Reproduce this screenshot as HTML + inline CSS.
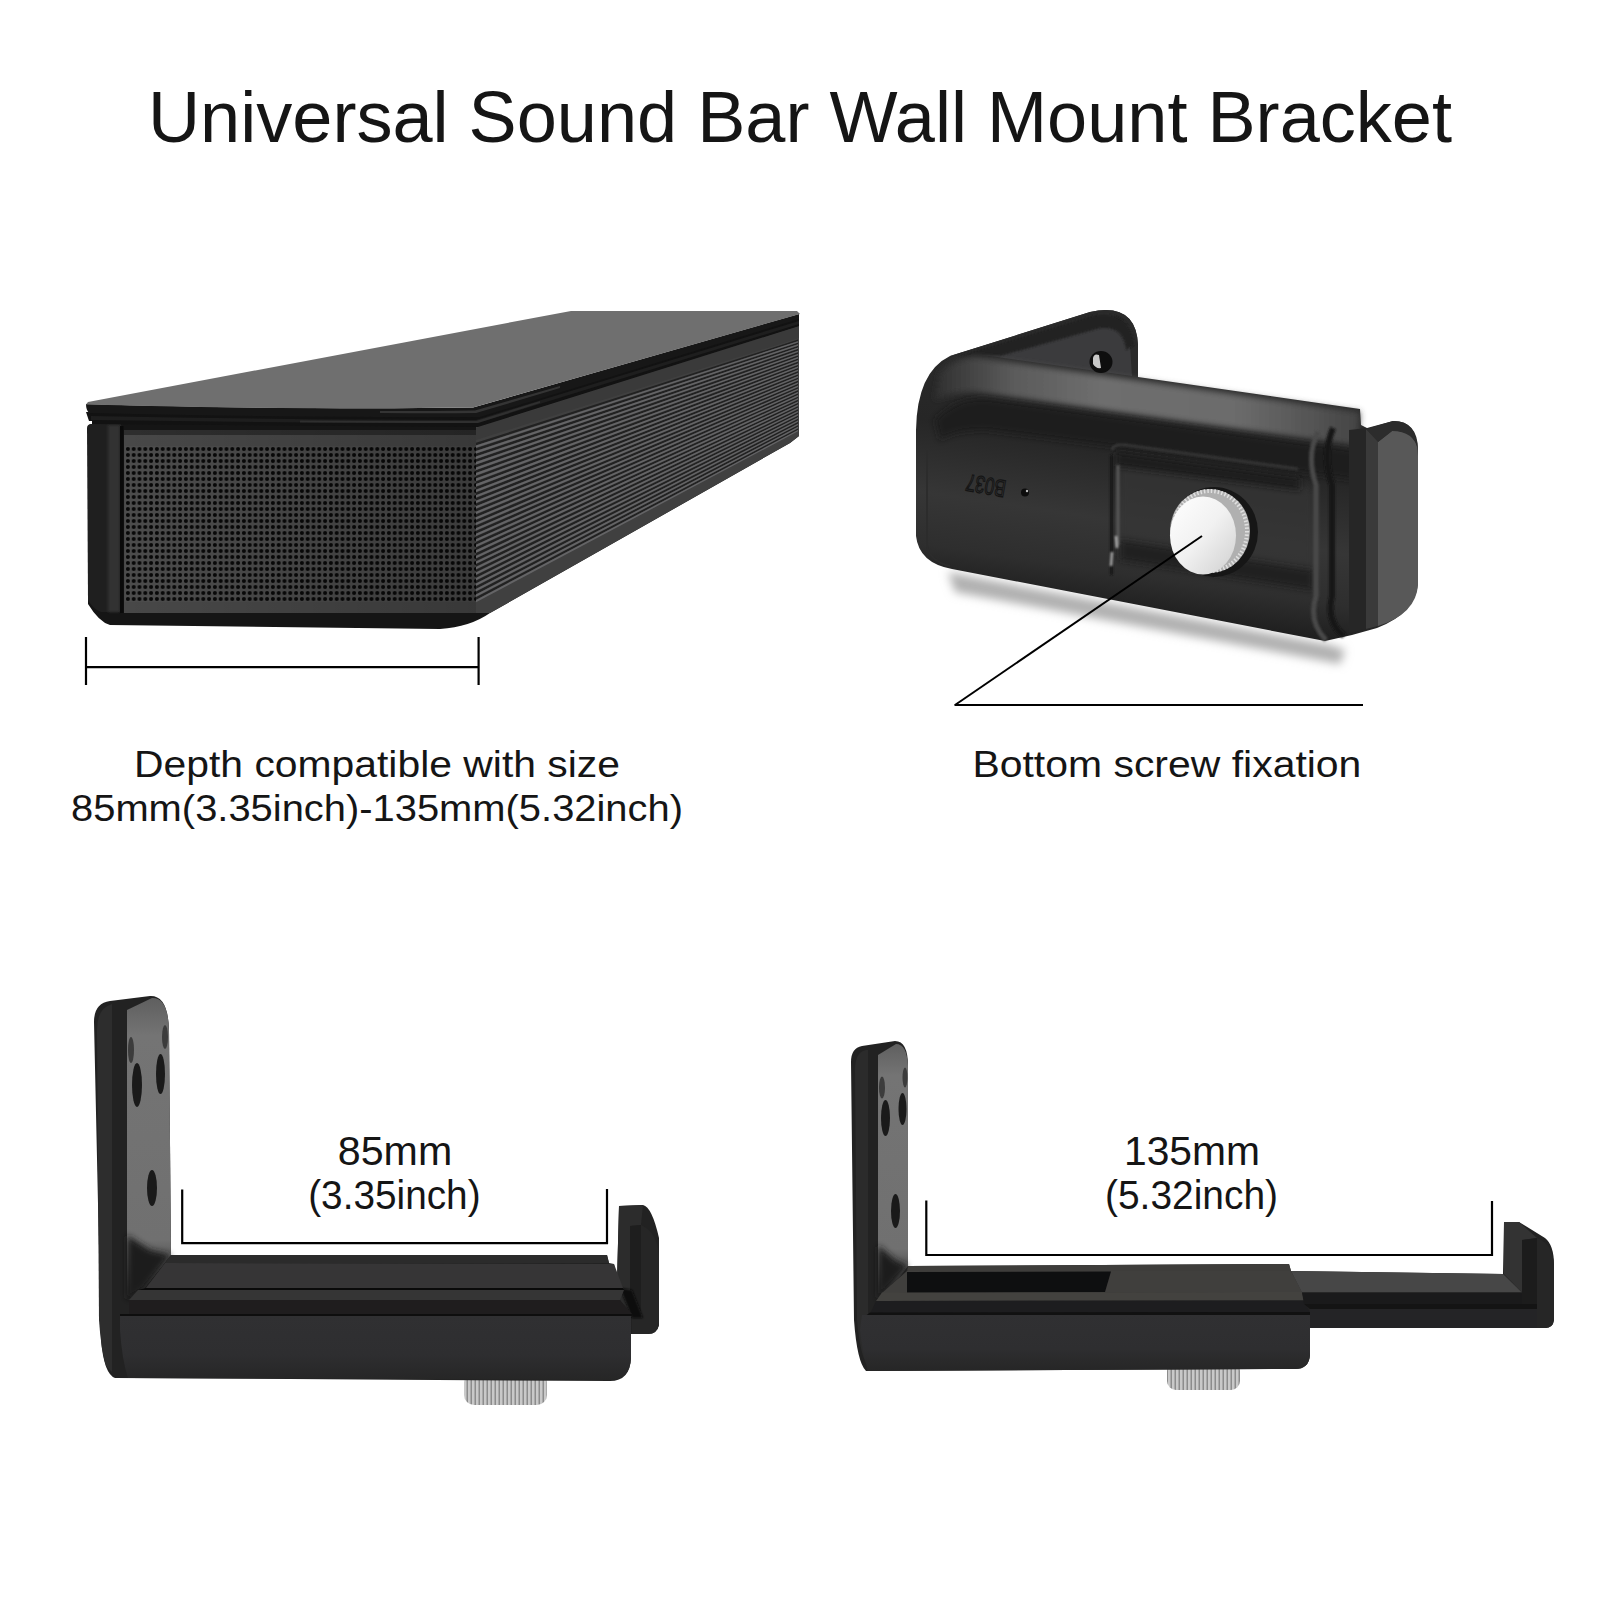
<!DOCTYPE html>
<html><head><meta charset="utf-8">
<style>
html,body{margin:0;padding:0;background:#fff;width:1600px;height:1600px;overflow:hidden}
svg{display:block}
text{font-family:"Liberation Sans",sans-serif;fill:#151515}
</style></head>
<body>
<svg width="1600" height="1600" viewBox="0 0 1600 1600">
<defs>
  <pattern id="dots" x="125" y="446" width="5.8" height="6.0" patternUnits="userSpaceOnUse">
    <rect width="5.8" height="6" fill="#4c4c4c"/>
    <circle cx="2.9" cy="3" r="2.0" fill="#080808"/>
  </pattern>
  <linearGradient id="gGrShade" x1="0" y1="0" x2="1" y2="0">
    <stop offset="0" stop-color="#000" stop-opacity="0"/><stop offset="1" stop-color="#000" stop-opacity="0.22"/>
  </linearGradient>
  <pattern id="ribs" x="0" y="0" width="40" height="4" patternUnits="userSpaceOnUse" patternTransform="rotate(-28)">
    <rect width="40" height="4" fill="#3a3a3a"/>
    <rect y="2.4" width="40" height="1.6" fill="#1e1e1e"/>
  </pattern>
  <filter id="blur6" x="-20%" y="-50%" width="140%" height="200%"><feGaussianBlur stdDeviation="6"/></filter>
  <linearGradient id="gTop" x1="0" y1="0" x2="0" y2="1">
    <stop offset="0" stop-color="#363636"/><stop offset="1" stop-color="#232323" stop-opacity="0"/>
  </linearGradient>
  <linearGradient id="gKnob" x1="0" y1="0" x2="1" y2="1">
    <stop offset="0" stop-color="#ffffff"/><stop offset="0.5" stop-color="#f1f1f1"/><stop offset="1" stop-color="#cfcfcf"/>
  </linearGradient>
  <linearGradient id="gPlate1" gradientUnits="userSpaceOnUse" x1="0" y1="1000" x2="0" y2="1300">
    <stop offset="0" stop-color="#606060"/><stop offset="0.12" stop-color="#747474"/><stop offset="0.8" stop-color="#707070"/><stop offset="0.88" stop-color="#505050"/><stop offset="1" stop-color="#1a1a1a"/>
  </linearGradient>
  <linearGradient id="gPlate2" gradientUnits="userSpaceOnUse" x1="0" y1="1045" x2="0" y2="1300">
    <stop offset="0" stop-color="#606060"/><stop offset="0.12" stop-color="#747474"/><stop offset="0.8" stop-color="#707070"/><stop offset="0.88" stop-color="#505050"/><stop offset="1" stop-color="#1a1a1a"/>
  </linearGradient>
  <linearGradient id="gBody" x1="0" y1="0" x2="0" y2="1">
    <stop offset="0" stop-color="#303032"/><stop offset="0.6" stop-color="#2e2e30"/><stop offset="1" stop-color="#262626"/>
  </linearGradient>
  <pattern id="knurl" x="0" y="0" width="4" height="40" patternUnits="userSpaceOnUse">
    <rect width="4" height="40" fill="#c9c9c9"/><rect x="2.6" width="1.2" height="40" fill="#7d7d7d"/>
  </pattern>
  <filter id="blur5" filterUnits="userSpaceOnUse" x="0" y="0" width="1600" height="1600"><feGaussianBlur stdDeviation="5"/></filter>
  <linearGradient id="gBodyT" gradientUnits="userSpaceOnUse" x1="1100" y1="376" x2="1067" y2="600">
    <stop offset="0" stop-color="#2a2a2a"/><stop offset="0.3" stop-color="#262626"/><stop offset="0.62" stop-color="#363636"/><stop offset="0.85" stop-color="#2e2e2e"/><stop offset="1" stop-color="#202020"/>
  </linearGradient>
  <filter id="blur3" filterUnits="userSpaceOnUse" x="0" y="0" width="1600" height="1600"><feGaussianBlur stdDeviation="3"/></filter>
  <filter id="blur1" filterUnits="userSpaceOnUse" x="0" y="0" width="1600" height="1600"><feGaussianBlur stdDeviation="1.2"/></filter>
  <linearGradient id="gHiT" gradientUnits="userSpaceOnUse" x1="940" y1="0" x2="1360" y2="0">
    <stop offset="0" stop-color="#333"/><stop offset="0.17" stop-color="#5a5a5a"/><stop offset="0.38" stop-color="#6e6e6e"/><stop offset="0.7" stop-color="#6c6c6c"/><stop offset="0.88" stop-color="#555"/><stop offset="1" stop-color="#444"/>
  </linearGradient>
</defs>
<rect width="1600" height="1600" fill="#fff"/>

<!-- ===== TEXT ===== -->
<text id="t_title" x="148" y="141.8" font-size="72" textLength="1304" lengthAdjust="spacingAndGlyphs">Universal Sound Bar Wall Mount Bracket</text>
<text id="t_d1" x="134" y="777.4" font-size="37.6" textLength="486" lengthAdjust="spacingAndGlyphs">Depth compatible with size</text>
<text id="t_d2" x="71" y="821" font-size="37.6" textLength="612" lengthAdjust="spacingAndGlyphs">85mm(3.35inch)-135mm(5.32inch)</text>
<text id="t_b" x="972.4" y="777" font-size="37.6" textLength="389" lengthAdjust="spacingAndGlyphs">Bottom screw fixation</text>
<text id="t_85" x="337.8" y="1165" font-size="40" textLength="114.4" lengthAdjust="spacingAndGlyphs">85mm</text>
<text id="t_335" x="308.2" y="1209.4" font-size="40" textLength="172.4" lengthAdjust="spacingAndGlyphs">(3.35inch)</text>
<text id="t_135" x="1124" y="1165" font-size="40" textLength="136" lengthAdjust="spacingAndGlyphs">135mm</text>
<text id="t_532" x="1105" y="1209.4" font-size="40" textLength="173" lengthAdjust="spacingAndGlyphs">(5.32inch)</text>

<!-- ===== DIMENSION LINES ===== -->
<g stroke="#000" stroke-width="2.2" fill="none">
  <path d="M86,637 V685 M478.6,637 V685 M86,667.2 H478.6"/>
  <path d="M954.5,705 H1363"/>
  <path d="M182.2,1189.4 V1243.2 H607 V1189"/>
  <path d="M926.3,1200.6 V1255 H1492 V1201"/>
</g>

<!-- ===== SOUNDBAR ===== -->
<g id="soundbar">
  <!-- body silhouette -->
  <path d="M92,412 L472,412 L799,316 L799,436 L790,443 L490,613 Q470,627 440,629 L110,625 Q99,622 88,604 L88,428 Q88,424 92,424 Z" fill="#151515"/>
  <!-- left narrow column -->
  <path d="M87,428 Q87,424 92,424 L121,424 L121,612 L101,612 Q93,609 88,600 Z" fill="#1f1f1f"/>
  <path d="M108,425 L120,425 L120,612 L108,612 Z" fill="#303030" filter="url(#blur1)"/>
  <!-- grille frame -->
  <rect x="124" y="430" width="352" height="183" fill="#484848"/>
  <rect x="124" y="430" width="352" height="5" fill="#2e2e2e"/>
  <rect x="125" y="446" width="351" height="156" fill="url(#dots)"/>
  <rect x="124" y="430" width="352" height="183" fill="url(#gGrShade)"/>
  <rect x="120" y="426" width="3.5" height="187" fill="#0a0a0a"/>
  <!-- right face -->
  <path d="M476,424 L799,326 L799,436 L790,443 L490,613 L476,613 Z" fill="#404040"/>
  <path d="M476,428 L799,326 L799,338 L476,440 Z" fill="#3a3a3a"/>
  <path fill="#212121" d="M476,442.8 L798,339.6 L798,341.0 L476,445.2Z M476,448.3 L798,342.8 L798,344.2 L476,450.8Z M476,453.8 L798,345.9 L798,347.4 L476,456.3Z M476,459.3 L798,349.1 L798,350.5 L476,461.8Z M476,464.8 L798,352.3 L798,353.7 L476,467.3Z M476,470.3 L798,355.4 L798,356.9 L476,472.8Z M476,475.9 L798,358.6 L798,360.0 L476,478.3Z M476,481.4 L798,361.8 L798,363.2 L476,483.9Z M476,486.9 L798,365.0 L798,366.4 L476,489.4Z M476,492.4 L798,368.1 L798,369.6 L476,494.9Z M476,497.9 L798,371.3 L798,372.7 L476,500.4Z M476,503.4 L798,374.5 L798,375.9 L476,505.9Z M476,509.0 L798,377.7 L798,379.1 L476,511.4Z M476,514.5 L798,380.8 L798,382.3 L476,517.0Z M476,520.0 L798,384.0 L798,385.4 L476,522.5Z M476,525.5 L798,387.2 L798,388.6 L476,528.0Z M476,531.0 L798,390.3 L798,391.8 L476,533.5Z M476,536.6 L798,393.5 L798,394.9 L476,539.0Z M476,542.1 L798,396.7 L798,398.1 L476,544.6Z M476,547.6 L798,399.9 L798,401.3 L476,550.1Z M476,553.1 L798,403.0 L798,404.5 L476,555.6Z M476,558.6 L798,406.2 L798,407.6 L476,561.1Z M476,564.1 L798,409.4 L798,410.8 L476,566.6Z M476,569.7 L798,412.6 L798,414.0 L476,572.1Z M476,575.2 L798,415.7 L798,417.2 L476,577.7Z M476,580.7 L798,418.9 L798,420.3 L476,583.2Z M476,586.2 L798,422.1 L798,423.5 L476,588.7Z M476,591.7 L798,425.2 L798,426.7 L476,594.2Z M476,597.2 L798,428.4 L798,429.8 L476,599.7Z"/>
  <path fill="#646466" d="M476,445.5 L798,341.2 L798,342.5 L476,447.8Z M476,451.0 L798,344.3 L798,345.7 L476,453.4Z M476,456.6 L798,347.5 L798,348.8 L476,458.9Z M476,462.1 L798,350.7 L798,352.0 L476,464.4Z M476,467.6 L798,353.9 L798,355.2 L476,469.9Z M476,473.1 L798,357.0 L798,358.4 L476,475.4Z M476,478.6 L798,360.2 L798,361.5 L476,480.9Z M476,484.1 L798,363.4 L798,364.7 L476,486.5Z M476,489.7 L798,366.6 L798,367.9 L476,492.0Z M476,495.2 L798,369.7 L798,371.1 L476,497.5Z M476,500.7 L798,372.9 L798,374.2 L476,503.0Z M476,506.2 L798,376.1 L798,377.4 L476,508.5Z M476,511.7 L798,379.2 L798,380.6 L476,514.0Z M476,517.2 L798,382.4 L798,383.7 L476,519.6Z M476,522.8 L798,385.6 L798,386.9 L476,525.1Z M476,528.3 L798,388.8 L798,390.1 L476,530.6Z M476,533.8 L798,391.9 L798,393.3 L476,536.1Z M476,539.3 L798,395.1 L798,396.4 L476,541.6Z M476,544.8 L798,398.3 L798,399.6 L476,547.1Z M476,550.3 L798,401.4 L798,402.8 L476,552.7Z M476,555.9 L798,404.6 L798,406.0 L476,558.2Z M476,561.4 L798,407.8 L798,409.1 L476,563.7Z M476,566.9 L798,411.0 L798,412.3 L476,569.2Z M476,572.4 L798,414.1 L798,415.5 L476,574.7Z M476,577.9 L798,417.3 L798,418.6 L476,580.2Z M476,583.4 L798,420.5 L798,421.8 L476,585.8Z M476,589.0 L798,423.7 L798,425.0 L476,591.3Z M476,594.5 L798,426.8 L798,428.2 L476,596.8Z M476,600.0 L798,430.0 L798,431.3 L476,602.3Z"/>
  <!-- rim band -->
  <path d="M86,412 L476,416 L799,318 L799,326 L478,427 L92,424 L92,421 L89,421 Z" fill="#121212"/>
  <path d="M91,416 Q300,420 476,420 L799,321 L799,324 L478,423 Q300,423 91,420 Z" fill="#1e1e1e"/>
  <path d="M300,420.5 Q450,421 476,421 L540,401 L540,403 L478,423 Q450,423 300,422.5 Z" fill="#3a3a3a" opacity="0.6"/>
  <!-- lid edge -->
  <path d="M86,404 Q300,410 473,407.5 L799,314 L799,319 L480,417 Q300,418 89,413 Q86,410 86,404 Z" fill="#171717"/>
  <path d="M380,411 Q440,411 475,410.5 L560,386 L560,388 L476,413 Q440,413.5 380,413 Z" fill="#3c3c3c" opacity="0.8"/>
  <!-- lid top -->
  <path d="M88,402 L571,311 L797,311 L800,314 L473,407.5 Q300,410 86,404.5 Z" fill="#6f6f6f"/>
</g>

<!-- ===== TOP-RIGHT BRACKET ===== -->
<g id="bracket_top">
  <!-- shadow -->
  <path d="M948,572 L1330,645 L1345,650 L1340,664 L955,592 Z" fill="#b0b0b0" filter="url(#blur5)"/>
  <!-- silhouette -->
  <path d="M916,538 L916,430 Q917,372 950,356 L1090,312 Q1136,302 1138,345 L1138,377 L1360,409 L1361,425 L1367,428 L1393,421 Q1418,421 1418,450 L1418,580 Q1418,612 1377,628 L1352,635 L1325,641 L952,569 Q919,563 916,536 Z" fill="url(#gBodyT)"/>
  <!-- plate top band -->
  <path d="M950,356 L1090,312 Q1136,302 1138,345 L1138,377 L975,354 Z" fill="#2a2a2a"/>
  <!-- plate inner face -->
  <path d="M990,352 L1098,322 Q1128,318 1130,345 L1132,376 L975,354 Z" fill="#3b3b3d"/>
  <path d="M958,356 L1092,316 Q1130,308 1134,345 L1126,350 Q1124,326 1100,328 L1000,356 Z" fill="#202020" filter="url(#blur1)"/>
  <!-- top surface highlight -->
  <path d="M940,372 Q955,358 975,357 L1360,412 L1358,446 L1200,424 L975,392 Q952,392 935,400 Z" fill="url(#gHiT)" filter="url(#blur3)"/>
  <path d="M935,420 Q955,398 985,398 L1358,450 L1354,480 L1200,458 L985,430 Q955,430 940,440 Z" fill="#1c1c1c" opacity="0.85" filter="url(#blur3)"/>
  <!-- screw on plate -->
  <ellipse cx="1101" cy="362" rx="11.5" ry="11" fill="#0e0e0e"/>
  <path d="M1093,358 Q1094,353 1099,355 L1101,368 Q1096,369 1093,364 Z" fill="#c8c8c8"/>
  <!-- left end rim -->
  <path d="M927,450 L927,545 Q929,561 950,566" stroke="#2c2c2c" stroke-width="2" fill="none"/>
  <!-- recess -->
  <path d="M1120,458 L1305,484 Q1314,488 1313,500 L1313,585 L1120,556 Z" fill="#363636" opacity="0.7" filter="url(#blur3)"/>
  <path d="M1116,452 L1300,478 L1300,490 L1116,466 Z" fill="#1a1a1a" filter="url(#blur3)"/>
  <path d="M1120,540 L1313,570 L1313,590 L1120,560 Z" fill="#1c1c1c" opacity="0.8" filter="url(#blur3)"/>
  <path d="M1110,455 L1113,455 L1113,575 L1110,575 Z" fill="#141414" filter="url(#blur1)"/>
  <path d="M1118,465 L1118,545" stroke="#5a5a5a" stroke-width="3" fill="none" filter="url(#blur1)"/>
  <path d="M1116,536 L1117,548 M1112,552 L1111,566" stroke="#b0b0b0" stroke-width="2.5" fill="none" filter="url(#blur1)"/>
  <path d="M1112,450 Q1113,444 1125,445 L1298,469" stroke="#3e3e3e" stroke-width="2" fill="none" filter="url(#blur1)"/>
  <path d="M1318,432 Q1306,455 1316,485 L1316,596 Q1308,622 1326,640" stroke="#4a4a4a" stroke-width="5" fill="none" filter="url(#blur1)"/>
  <path d="M1333,428 Q1322,455 1332,485 L1332,596 Q1326,622 1344,636" stroke="#181818" stroke-width="6" fill="none" filter="url(#blur1)"/>
  <!-- clip -->
  <path d="M1349,430 L1367,428 L1378,440 L1378,626 L1349,633 Z" fill="#262626"/>
  <path d="M1366,429 L1378,440 L1378,626 L1366,629 Z" fill="#3a3a3a"/>
  <path d="M1378,442 L1392,431 Q1418,429 1418,456 L1418,585 Q1416,614 1378,626 Z" fill="#585858"/>
  <path d="M1366,429 L1393,421 Q1416,420 1418,450 Q1414,431 1392,431 L1378,442 Z" fill="#2c2c2c"/>
  <!-- B037 mark -->
  <text x="0" y="0" font-size="24" transform="translate(1007,481) rotate(190)" textLength="40" lengthAdjust="spacingAndGlyphs" style="fill:none;stroke:#151515;stroke-width:1.3">B037</text>
  <circle cx="1025" cy="492.5" r="4" fill="#0c0c0c"/>
  <circle cx="1027" cy="491" r="1.2" fill="#bbb"/>
  <!-- knob -->
  <ellipse cx="1214" cy="532" rx="44" ry="45" fill="#161616"/>
  <ellipse cx="1210" cy="531" rx="40" ry="42" fill="#b0b0b0"/>
  <ellipse cx="1210" cy="531" rx="37" ry="40" fill="none" stroke="#e0e0e0" stroke-width="4" stroke-dasharray="1.5 2"/>
  <ellipse cx="1203" cy="535.5" rx="33" ry="39" fill="url(#gKnob)"/>
</g>

<!-- ===== BOTTOM-LEFT BRACKET ===== -->
<g id="bracket_bl">
  <!-- knob -->
  <rect x="464" y="1372" width="83" height="33" rx="10" fill="url(#knurl)"/>
  <rect x="470" y="1372" width="71" height="7" fill="#1a1a1a"/>
  <!-- silhouette -->
  <path d="M94,1022 Q94,1003 110,1001 L150,996 Q168,995 169,1030 L171,1255 L607,1255 L609,1263 L614,1264 L617,1280 L619,1206 L643,1205 Q652,1207 659,1238 L659,1325 Q657,1334 648,1334 L631,1334 L631,1358 Q630,1381 610,1381 L115,1378 Q104,1374 101,1340 Z" fill="#222222"/>
  <!-- rim strip -->
  <path d="M97,1030 Q97,1008 112,1004 L112,1372 L106,1366 Q101,1350 99,1320 Z" fill="#2d2d2d"/>
  <!-- gray plate face -->
  <path d="M127,1010 L152,998 Q168,997 169,1030 L171,1255 L144,1289 L127,1300 Z" fill="url(#gPlate1)"/>
  <ellipse cx="131" cy="1050" rx="3" ry="13" fill="#3c3c3c"/>
  <ellipse cx="165" cy="1037" rx="3" ry="12" fill="#3c3c3c"/>
  <ellipse cx="137" cy="1085" rx="5" ry="22" fill="#1a1a1a"/>
  <ellipse cx="160.5" cy="1074" rx="4.5" ry="20" fill="#1a1a1a"/>
  <ellipse cx="152" cy="1188" rx="5" ry="18" fill="#1a1a1a"/>
  <path d="M127,1235 L150,1250 L171,1255 L144,1289 L127,1300 Z" fill="#1e1e1e" filter="url(#blur3)"/>
  <!-- jaw -->
  <path d="M619,1206 L643,1205 L641,1225 L630,1226 L630,1318 L622,1310 L617,1282 Z" fill="#2c2c2c"/>
  <path d="M630,1226 L641,1225 L641,1318 L630,1318 Z" fill="#1e1e1e"/>
  <path d="M641,1225 Q657,1232 659,1255 L659,1325 Q657,1334 648,1334 L632,1334 L632,1318 L641,1318 Z" fill="#262626"/>
  <path d="M620,1288 L632,1290 L643,1318 L632,1318 Z" fill="#111" filter="url(#blur1)"/>
  <!-- rails -->
  <path d="M171,1255 L607,1255 L609,1263 L165,1263 Z" fill="#2b2b2b"/>
  <path d="M165,1263 L614,1264 L623,1288 L146,1288 Z" fill="#363536"/>
  <path d="M146,1288 L623,1288 L624,1290 L138,1290 Z" fill="#0a0a0a"/>
  <path d="M138,1290 L624,1290 L620,1300 L129,1300 Z" fill="#353535"/>
  <path d="M129,1300 L620,1300 L632,1314 L129,1314 Z" fill="#1f1d1e"/>
  <path d="M120,1314 L632,1314 L632,1316 L120,1316 Z" fill="#0e0e0e"/>
  <!-- body face -->
  <path d="M120,1316 L631,1316 L631,1358 Q630,1380 610,1380 L128,1378 Q122,1360 120,1330 Z" fill="url(#gBody)"/>
</g>

<!-- ===== BOTTOM-RIGHT BRACKET ===== -->
<g id="bracket_br">
  <!-- knob -->
  <rect x="1167" y="1362" width="73" height="28" rx="9" fill="url(#knurl)"/>
  <rect x="1172" y="1362" width="63" height="6" fill="#1a1a1a"/>
  <!-- silhouette -->
  <path d="M851,1062 Q851,1048 862,1046 L895,1041 Q908,1041 908,1066 L908,1266 L1289,1264 L1291,1271 L1503,1274 L1504,1222 L1519,1222 L1545,1238 Q1554,1245 1554,1265 L1554,1320 Q1553,1328 1545,1328 L1310,1328 L1310,1355 Q1309,1369 1295,1369 L866,1371 Q857,1362 854,1320 Z" fill="#222222"/>
  <!-- rim strip -->
  <path d="M855,1070 Q855,1052 866,1050 L868,1050 L868,1366 Q860,1356 857,1320 Z" fill="#2b2b2b"/>
  <!-- gray plate face -->
  <path d="M878,1055 L896,1044 Q907,1044 908,1066 L908,1266 L882,1300 L878,1300 Z" fill="url(#gPlate2)"/>
  <ellipse cx="882" cy="1087.5" rx="3" ry="11" fill="#3c3c3c"/>
  <ellipse cx="905" cy="1077.5" rx="2.5" ry="10" fill="#3c3c3c"/>
  <ellipse cx="885.5" cy="1118" rx="4.5" ry="18" fill="#1a1a1a"/>
  <ellipse cx="902.5" cy="1109" rx="4" ry="16" fill="#1a1a1a"/>
  <ellipse cx="895.5" cy="1211" rx="4.5" ry="17" fill="#1a1a1a"/>
  <path d="M878,1245 L895,1260 L908,1266 L882,1295 L878,1300 Z" fill="#1e1e1e" filter="url(#blur3)"/>
  <!-- upper rail -->
  <path d="M908,1266 L1289,1264 L1291,1271 L907,1272 Z" fill="#3e3d3b"/>
  <path d="M907,1271 L1291,1271 L1302,1292 L882,1293 Z" fill="#403f3d"/>
  <path d="M907,1272 L1111,1271.5 L1105,1292 L907,1293.5 Z" fill="#0e0f10"/>
  <!-- lower rail -->
  <path d="M882,1292.5 L1302,1292 L1304,1300.5 L876,1301 Z" fill="#43423f"/>
  <path d="M876,1301 L1304,1300.5 L1310,1312.5 L870,1314 Z" fill="#1d1d1f"/>
  <path d="M870,1312.5 L1310,1312 L1310,1315 L866,1315.5 Z" fill="#111"/>
  <!-- body face -->
  <path d="M862,1315 L1310,1315 L1310,1355 Q1309,1369 1295,1369 L868,1371 Q862,1350 860,1330 Z" fill="url(#gBody)"/>
  <!-- arm -->
  <path d="M1291,1271 L1503,1274 L1522,1292.5 L1302,1292.5 Z" fill="#474747"/>
  <path d="M1302,1292.5 L1522,1292.5 L1522,1304 L1304,1304 Z" fill="#1a1a1b"/>
  <path d="M1304,1304 L1537,1304 L1537,1309 L1310,1309 Z" fill="#141414"/>
  <path d="M1310,1309 L1537,1309 L1547,1328 L1310,1328 Z" fill="#242426"/>
  <!-- jaw -->
  <path d="M1504,1222 L1519,1222 L1537,1238 L1522,1240 L1522,1292.5 L1504,1274 Z" fill="#333333"/>
  <path d="M1522,1240 L1537,1238 L1537,1304 L1522,1304 Z" fill="#1c1c1c"/>
  <path d="M1537,1238 Q1553,1244 1554,1265 L1554,1320 Q1553,1328 1545,1328 L1537,1328 Z" fill="#262626"/>
</g>

<path d="M955,705 L1202,536" stroke="#000" stroke-width="2" fill="none"/>
</svg>
</body></html>
